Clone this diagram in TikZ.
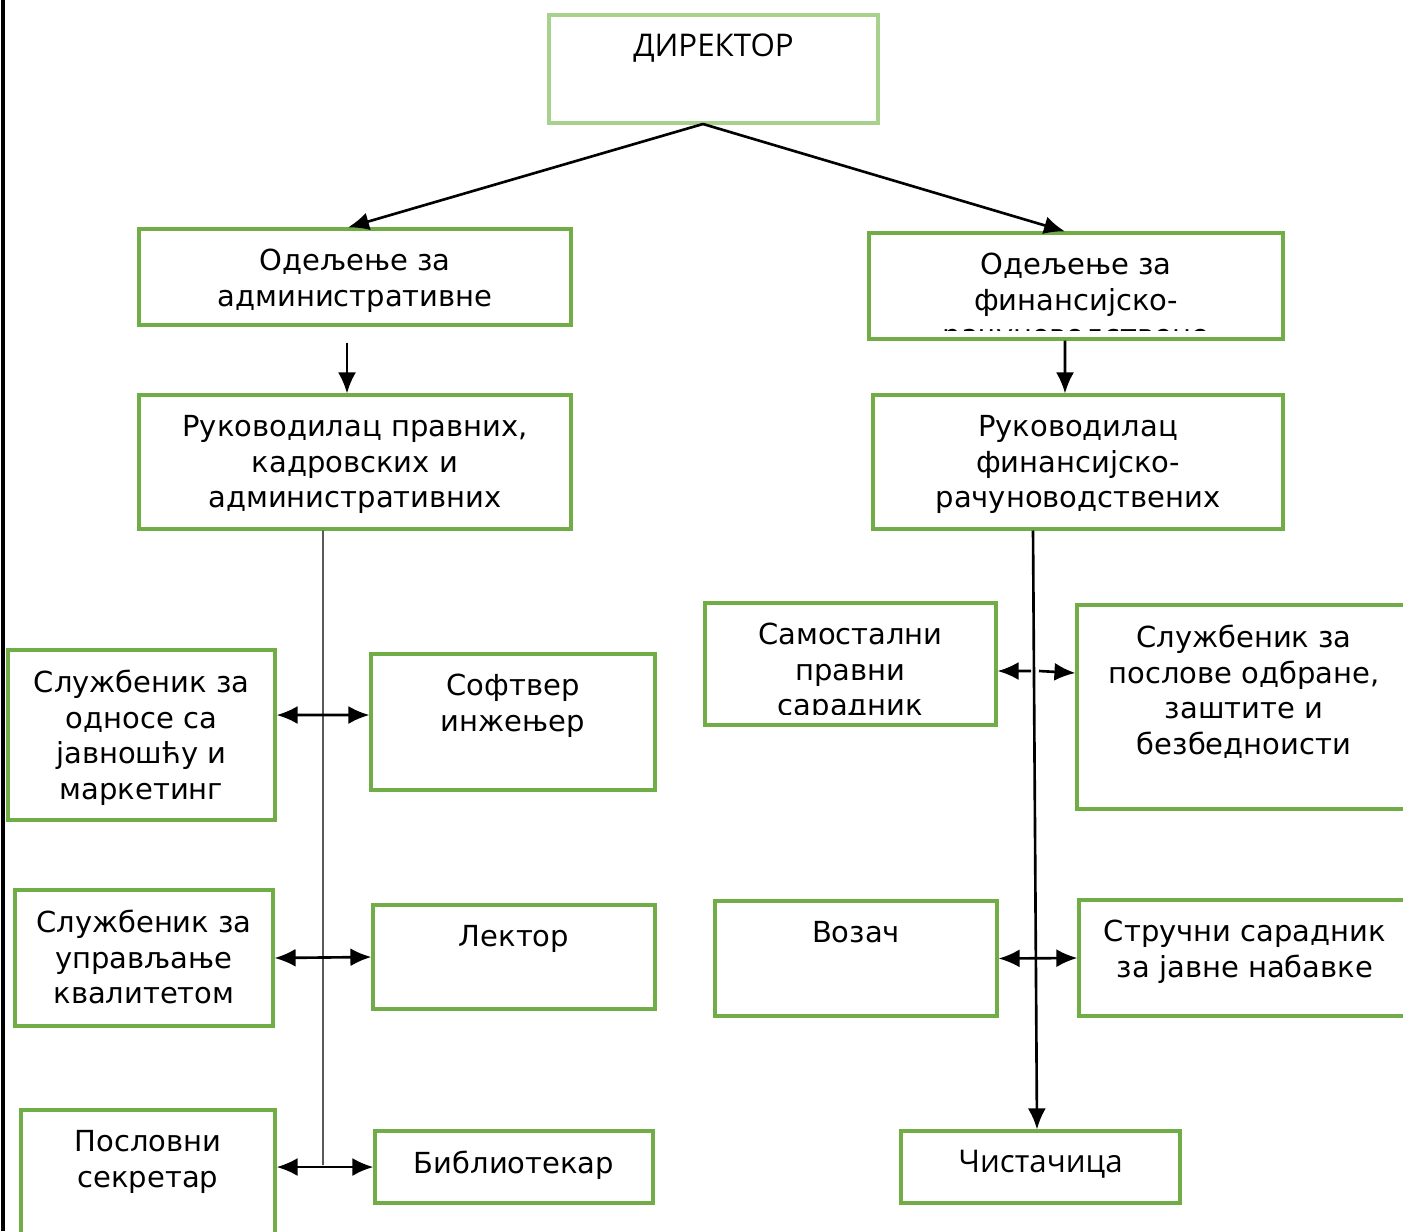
\documentclass[tikz,border=0pt]{standalone}
\usepackage{fontspec}
\setmainfont{DejaVu Sans}
\newfontfamily\headfont{Open Sans}
\usetikzlibrary{positioning,fit,arrows.meta}
\definecolor{unitgreen}{HTML}{70AD47}
\definecolor{headgreen}{HTML}{A9D18E}

\tikzset{
  unit/.style={draw=unitgreen, line width=1.8pt, inner sep=0pt, rectangle},
  head/.style={unit, draw=headgreen},
  txt/.style={align=center, inner sep=0pt, outer sep=0pt,
    font=\fontsize{16.5}{20.2}\selectfont},
  htxt/.style={txt, font=\headfont\fontsize{17.8}{21}\selectfont},
  arr/.style={-{Latex[length=4.2mm,width=3.6mm]}, line width=1.5pt},
  dbl/.style={{Latex[length=4.2mm,width=3.6mm]}-{Latex[length=4.2mm,width=3.6mm]}, line width=1.5pt},
}

\begin{document}
\begin{tikzpicture}[x=0.02cm, y=-0.02cm]
  \clip (0,0) rectangle (1403,1231);
  \draw[line width=2.2pt] (3,0) -- (3,1231);

  % director and departments
  \node[head, fit={(549,15) (878,123)}] (dir) {};
  \node[htxt, below=0.4cm of dir.north] (dir-t) {ДИРЕКТОР};

  \node[unit, fit={(139,229) (571,325)}] (odA) {};
  \node[txt, below=0.44cm of odA.north] (odA-t) {Одељење за\\административне};

  \node[unit, fit={(869,233) (1283,339)}] (odF) {};
  \begin{scope}
    \clip (odF.north west) rectangle ([yshift=0.2cm]odF.south east);
    \node[txt, below=0.44cm of odF.north] (odF-t) {Одељење за\\финансијско-\\рачуноводствене};
  \end{scope}

  \node[unit, fit={(139,395) (571,529)}] (rkA) {};
  \node[txt, below=0.44cm of rkA.north] (rkA-t) {Руководилац правних,\\кадровских и\\административних};

  \node[unit, fit={(873,395) (1283,529)}] (rkF) {};
  \node[txt, below=0.44cm of rkF.north] (rkF-t) {Руководилац\\финансијско-\\рачуноводствених};

  % left column
  \node[unit, fit={(8,650) (275,820)}] (odn) {};
  \node[txt, below=0.44cm of odn.north] (odn-t) {Службеник за\\односе са\\јавношћу и\\маркетинг};

  \node[unit, fit={(371,654) (655,790)}] (sof) {};
  \node[txt, below=0.44cm of sof.north] (sof-t) {Софтвер\\инжењер};

  \node[unit, fit={(15,890) (273,1026)}] (upr) {};
  \node[txt, below=0.44cm of upr.north] (upr-t) {Службеник за\\управљање\\квалитетом};

  \node[unit, fit={(373,905) (655,1009)}] (lek) {};
  \node[txt, below=0.44cm of lek.north] (lek-t) {Лектор};

  \node[unit, fit={(21,1110) (275,1250)}] (pos) {};
  \node[txt, below=0.44cm of pos.north] (pos-t) {Пословни\\секретар};

  \node[unit, fit={(375,1131) (653,1203)}] (bib) {};
  \node[txt, below=0.44cm of bib.north] (bib-t) {Библиотекар};

  % right column
  \node[unit, fit={(705,603) (996,725)}] (sam) {};
  \begin{scope}
    \clip (sam.north west) rectangle ([yshift=0.24cm]sam.south east);
    \node[txt, below=0.44cm of sam.north] (sam-t) {Самостални\\правни\\сарадник};
  \end{scope}

  \node[unit, fit={(1077,605) (1411,809)}] (obr) {};
  \node[txt, below=0.44cm of obr.north] (obr-t) {Службеник за\\послове одбране,\\заштите и\\безбедноисти};

  \node[unit, fit={(715,901) (997,1016)}] (voz) {};
  \node[txt, below=0.44cm of voz.north] (voz-t) {Возач};

  \node[unit, fit={(1079,900) (1411,1016)}] (str) {};
  \node[txt, below=0.44cm of str.north] (str-t) {Стручни сарадник\\за јавне набавке};

  \node[unit, fit={(901,1131) (1180,1203)}] (cis) {};
  \node[htxt, below=0.42cm of cis.north] (cis-t) {Чистачица};

  % connectors
  \coordinate (split) at (703,124);
  \draw[arr] (split) -- ([xshift=-0.14cm]odA.north);
  \draw[arr] (split) -- ([xshift=-0.22cm]odF.north);
  \draw[arr] ([xshift=-0.16cm,yshift=-0.32cm]odA.south) -- ([xshift=-0.16cm]rkA.north);
  \draw[arr] ([xshift=-0.22cm]odF.south) -- ([xshift=-0.26cm]rkF.north);

  \coordinate (lbot) at (323,1165);
  \draw[line width=0.6pt] ([xshift=-0.64cm]rkA.south) -- (lbot);
  \draw[dbl] ([yshift=0.4cm]odn.east) -- ([yshift=0.14cm]sof.west);
  \draw[dbl] (upr.east) -- (lek.west);
  \draw[dbl] (pos.east |- bib.west) -- (bib.west);

  \draw[arr] ([xshift=-0.9cm]rkF.south) -- ([xshift=-0.07cm]cis.north);
  \coordinate (ra) at (1031,671);
  \coordinate (rb) at (1039,671);
  \draw[arr] (ra) -- ([yshift=-0.14cm]sam.east);
  \draw[arr] (rb) -- ([yshift=0.68cm]obr.west);
  \draw[dbl] (voz.east) -- (str.west);
\end{tikzpicture}
\end{document}
